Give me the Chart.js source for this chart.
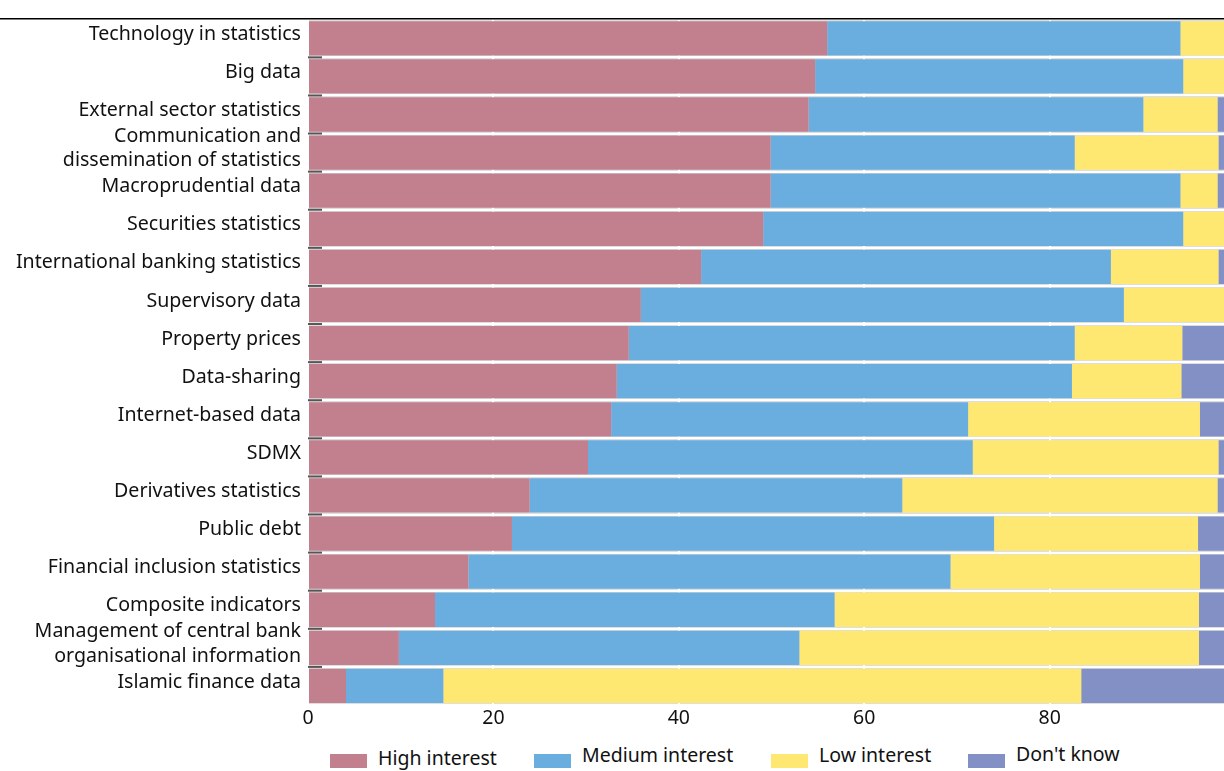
<!DOCTYPE html>
<html>
<head>
<meta charset="utf-8">
<script src="https://cdn.jsdelivr.net/npm/chart.js@4/dist/chart.umd.min.js"></script>
<style>
  html, body { margin: 0; padding: 0; background: #fff; }
  body { width: 1224px; height: 771px; position: relative; overflow: hidden; font-family: "Noto Sans", sans-serif; }
  #wrap { position: absolute; left: 0; top: 0; width: 1224px; height: 740px; }
  .box { position: absolute; top: 754px; width: 37px; height: 14px; }
  .txt { position: absolute; font-size: 19.5px; line-height: 20px; color: #111; white-space: nowrap; }
</style>
</head>
<body>
<div id="wrap"><canvas id="chart" width="1224" height="740"></canvas></div>
<div id="legend"></div>
<script>
(function () {

    // ── Données ───────────────────────────────────────────────────────────────
    var categories = [
        'Technology in statistics',
        'Big data',
        'External sector statistics',
        ['Communication and', 'dissemination of statistics'],
        'Macroprudential data',
        'Securities statistics',
        'International banking statistics',
        'Supervisory data',
        'Property prices',
        'Data-sharing',
        'Internet-based data',
        'SDMX',
        'Derivatives statistics',
        'Public debt',
        'Financial inclusion statistics',
        'Composite indicators',
        ['Management of central bank', 'organisational information'],
        'Islamic finance data'
    ];
    var highInterest   = [56.0, 54.7, 54.0, 49.9, 49.9, 49.1, 42.4, 35.9, 34.6, 33.3, 32.7, 30.2, 23.9, 22.0, 17.3, 13.7,  9.8,  4.1];
    var mediumInterest = [38.1, 39.7, 36.1, 32.8, 44.2, 45.3, 44.2, 52.1, 48.1, 49.1, 38.5, 41.5, 40.2, 52.0, 52.0, 43.1, 43.2, 10.5];
    var lowInterest    = [ 5.9,  5.6,  8.0, 15.5,  4.0,  5.6, 11.6, 12.0, 11.6, 11.8, 25.0, 26.5, 34.0, 22.0, 26.9, 39.3, 43.1, 68.8];
    var dontKnow       = [ 0.0,  0.0,  1.9,  1.8,  1.9,  0.0,  1.8,  0.0,  5.7,  5.8,  3.8,  1.8,  1.9,  4.0,  3.8,  3.9,  3.9, 16.6];
    var xTicks = [0, 20, 40, 60, 80];

    var series = [
        { label: 'High interest',   data: highInterest,   color: '#c27f8e' },
        { label: 'Medium interest', data: mediumInterest, color: '#6aaddf' },
        { label: 'Low interest',    data: lowInterest,    color: '#fee872' },
        { label: "Don't know",      data: dontKnow,       color: '#8290c6' }
    ];

    var FONT = '"Noto Sans", sans-serif';

    // ── Plugin : fond gris, trait du haut, petits tirets à gauche ────────────
    var decor = {
        id: 'decor',
        beforeDraw: function (chart) {
            var ctx = chart.ctx, a = chart.chartArea;
            ctx.save();
            ctx.fillStyle = '#dedede';
            ctx.fillRect(a.left, a.top, a.right - a.left, a.bottom - a.top);
            ctx.restore();
        },
        afterDatasetsDraw: function (chart) {
            var ctx = chart.ctx, a = chart.chartArea;
            var y = chart.scales.y;
            ctx.save();
            ctx.strokeStyle = '#555';
            ctx.lineWidth = 2;
            for (var i = 1; i < categories.length; i++) {
                var yy = (y.getPixelForValue(i - 1) + y.getPixelForValue(i)) / 2;
                ctx.beginPath();
                ctx.moveTo(a.left, yy);
                ctx.lineTo(a.left + 14, yy);
                ctx.stroke();
            }
            ctx.strokeStyle = '#000';
            ctx.lineWidth = 1.5;
            ctx.beginPath();
            ctx.moveTo(0, a.top - 0.5);
            ctx.lineTo(chart.width, a.top - 0.5);
            ctx.stroke();
            ctx.restore();
        }
    };

    new Chart(document.getElementById('chart').getContext('2d'), {
        type: 'bar',
        data: {
            labels: categories,
            datasets: series.map(function (s) {
                return {
                    label: s.label,
                    data: s.data,
                    backgroundColor: s.color,
                    borderWidth: 0,
                    barPercentage: 0.9,
                    categoryPercentage: 1.0
                };
            })
        },
        options: {
            indexAxis: 'y',
            responsive: false,
            animation: false,
            layout: { padding: { top: 17, right: 0, left: 0, bottom: 0 } },
            plugins: {
                legend: { display: false },
                tooltip: { enabled: false }
            },
            scales: {
                x: {
                    stacked: true,
                    min: 0,
                    max: 98.8,
                    afterBuildTicks: function (scale) {
                        scale.ticks = xTicks.map(function (v) { return { value: v }; });
                    },
                    afterFit: function (scale) { scale.height = 35; },
                    grid: { color: '#ffffff', lineWidth: 2, drawTicks: false },
                    border: { display: false },
                    ticks: { color: '#111', font: { family: FONT, size: 19.5 }, padding: 2 }
                },
                y: {
                    stacked: true,
                    afterFit: function (scale) { scale.width = 308; },
                    grid: { offset: true, color: '#ffffff', lineWidth: 2, drawTicks: false },
                    border: { display: false },
                    ticks: {
                        color: '#111',
                        font: { family: FONT, size: 19.6, lineHeight: 1.25 },
                        padding: 7,
                        labelOffset: -4,
                        autoSkip: false
                    }
                }
            }
        },
        plugins: [decor]
    });

    // ── Légende ───────────────────────────────────────────────────────────────
    var legendBoxX  = [330, 534, 771, 968];
    var legendTextX = [378, 582, 819, 1016];
    var legendTop   = [748, 744.5, 744.5, 744];
    var legend = document.getElementById('legend');
    series.forEach(function (s, i) {
        var b = document.createElement('span');
        b.className = 'box';
        b.style.left = legendBoxX[i] + 'px';
        b.style.background = s.color;
        legend.appendChild(b);
        var t = document.createElement('span');
        t.className = 'txt';
        t.style.left = legendTextX[i] + 'px';
        t.style.top = legendTop[i] + 'px';
        t.textContent = s.label;
        legend.appendChild(t);
    });

})();
</script>
</body>
</html>
